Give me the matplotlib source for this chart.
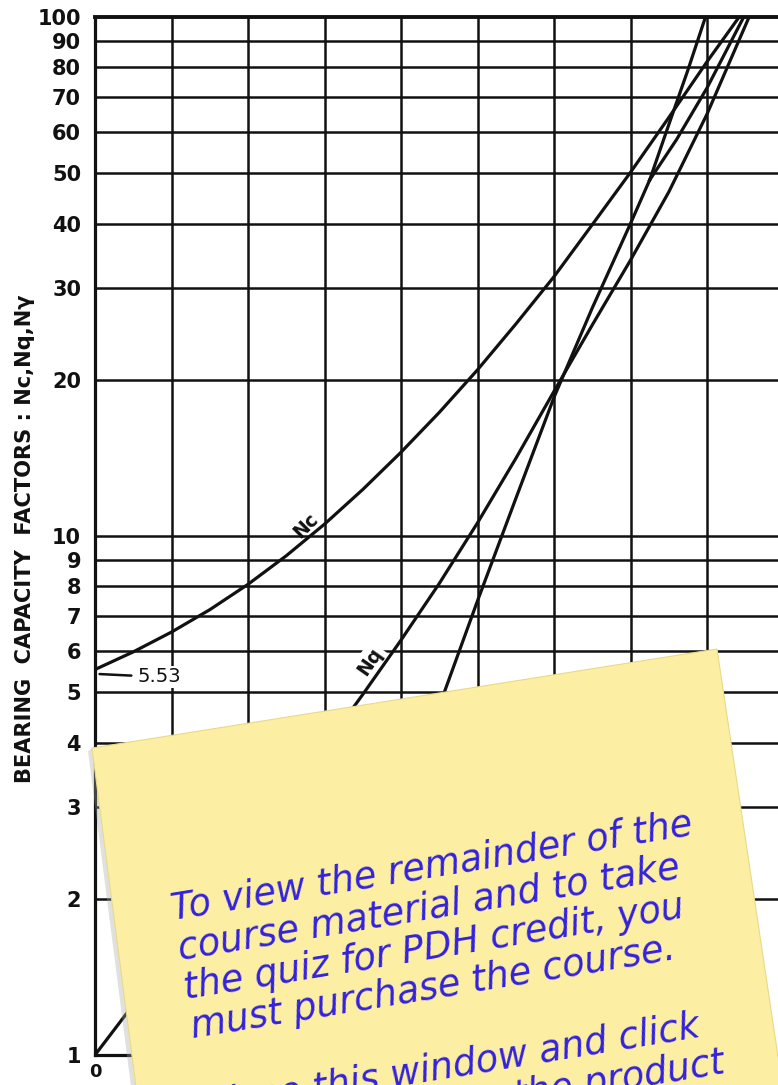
import numpy as np
import matplotlib
matplotlib.use("Agg")
import matplotlib.pyplot as plt
from matplotlib.patches import Polygon
from matplotlib.ticker import NullLocator, NullFormatter
from matplotlib import font_manager as fm

# ---------------- data ----------------
phi_nc = [0, 2.5, 5, 7.5, 10, 12.5, 15, 17.5, 20, 22.5, 25, 27.5, 30, 32.5, 35, 37.5, 40, 42.1]
Nc = [5.53, 5.98, 6.53, 7.21, 8.07, 9.16, 10.54, 12.29, 14.5, 17.3, 20.9, 25.6, 31.6, 39.8, 50.2, 64.0, 82.0, 100.0]

phi_nq = [0, 2.5, 5, 7.5, 10, 12.5, 15, 17.5, 20, 22.5, 25, 27.5, 30, 32.5, 35, 37.5, 40, 42.75]
Nq = [1.0, 1.25, 1.57, 1.97, 2.47, 3.1, 3.92, 4.95, 6.3, 8.1, 10.6, 14.1, 19.0, 25.5, 34.0, 46.0, 65.0, 100.0]

phi_ng = [2.5, 5, 7.5, 10, 12.5, 15, 17.5, 20, 22.5, 25, 27.5, 30, 32.5, 35, 36.25]
Ng = [0.15, 0.45, 0.8, 1.05, 1.35, 1.75, 2.3, 3.0, 4.7, 7.5, 11.8, 18.5, 27.5, 40.0, 48.5]
phi_ng_a = [36.25, 37.5, 38.75, 39.9]
Ng_a = [48.5, 62.0, 79.0, 100.0]
phi_ng_b = [36.25, 38.0, 40.0, 42.4]
Ng_b = [48.5, 58.0, 73.0, 100.0]

x_ticks = [0, 5, 10, 15, 20, 25, 30, 35, 40]
y_ticks = [1, 2, 3, 4, 5, 6, 7, 8, 9, 10, 20, 30, 40, 50, 60, 70, 80, 90, 100]
y_tick_labels = [str(v) for v in y_ticks]
x_grid = [5, 10, 15, 20, 25, 30, 35, 40]
y_grid = [2, 3, 4, 5, 6, 7, 8, 9, 10, 20, 30, 40, 50, 60, 70, 80, 90]

y_label = "BEARING  CAPACITY  FACTORS : Nc,Nq,N\u03b3"
note_lines = [
    "To view the remainder of the",
    "course material and to take",
    "the quiz for PDH credit, you",
    "must purchase the course.",
    "",
    "Close this window and click",
    "on 'Buy Now' on the product",
    "page.",
]

# ---------------- figure ----------------
W, H = 778, 1085
fig = plt.figure(figsize=(W / 100, H / 100), dpi=100)
fig.patch.set_facecolor("white")

def fx(px):
    return px / W

def fy(py):
    return 1 - py / H

names = {f.name for f in fm.fontManager.ttflist}
narrow = "Liberation Sans Narrow" if "Liberation Sans Narrow" in names else "DejaVu Sans"
ink = "#111111"

ax = fig.add_axes([fx(95), fy(1055), (778 - 95) / W, (1055 - 17) / H])
ax.set_yscale("log")
ax.set_xlim(0, 44.64)
ax.set_ylim(1, 100)

for x in x_grid:
    ax.axvline(x, color=ink, lw=1.8, zorder=1)
for y in y_grid:
    ax.axhline(y, color=ink, lw=1.8, zorder=1)

ax.set_yticks(y_ticks)
ax.set_yticklabels(y_tick_labels)
ax.yaxis.set_minor_locator(NullLocator())
ax.yaxis.set_minor_formatter(NullFormatter())
ax.set_xticks(x_ticks)
ax.set_xticklabels([str(v) for v in x_ticks])
ax.tick_params(axis="both", length=0, colors=ink)
ax.tick_params(axis="y", pad=10)
ax.tick_params(axis="x", pad=6)
for lab in ax.get_yticklabels():
    lab.set_fontfamily(narrow)
    lab.set_fontweight("bold")
    lab.set_fontsize(15)
for lab in ax.get_xticklabels():
    lab.set_fontfamily(narrow)
    lab.set_fontweight("bold")
    lab.set_fontsize(13)

ax.spines["right"].set_visible(False)
for s in ["left", "top", "bottom"]:
    ax.spines[s].set_linewidth(2.3)
    ax.spines[s].set_color(ink)
ax.spines["top"].set_linewidth(2.8)

lw = 2.3
ax.plot(phi_nc, Nc, color=ink, lw=lw, zorder=4)
ax.plot(phi_nq, Nq, color=ink, lw=lw, zorder=4)
ax.plot(phi_ng, Ng, color=ink, lw=lw, zorder=4)
ax.plot(phi_ng_a, Ng_a, color=ink, lw=lw, zorder=4)
ax.plot(phi_ng_b, Ng_b, color=ink, lw=lw, zorder=4)

# curve labels
ax.text(13.8, 10.45, "Nc", rotation=45, ha="center", va="center", fontsize=13.5,
        fontweight="bold", family=narrow, color=ink, zorder=3)
ax.text(17.95, 5.72, "Nq", rotation=55, ha="center", va="center", fontsize=13.5,
        fontweight="bold", family=narrow, color=ink, zorder=3,
        bbox=dict(boxstyle="square,pad=0.15", fc="white", ec="none"))
ax.annotate("5.53", xy=(phi_nc[0] + 0.3, 5.42), xytext=(4.2, 5.35),
            ha="center", va="center", fontsize=14, family=narrow, color=ink, zorder=3,
            bbox=dict(boxstyle="square,pad=0.1", fc="white", ec="none"),
            arrowprops=dict(arrowstyle="-", color=ink, lw=1.8, shrinkA=3, shrinkB=0))

# y label, fitted to the reference length
renderer = fig.canvas.get_renderer()

def text_width(s, **kw):
    t = fig.text(0, 0, s, **kw)
    w = t.get_window_extent(renderer).width
    t.remove()
    return w

ylab_kw = dict(family=narrow, fontweight="bold")
w0 = text_width(y_label, fontsize=10, **ylab_kw)
ylab_size = 10 * 492 / w0
fig.text(fx(25), fy(539), y_label, rotation=90, ha="center", va="center",
         fontsize=ylab_size, color=ink, **ylab_kw)

# ---------------- sticky note ----------------
note_px = [(92, 748), (717, 649), (786, 1110), (139, 1110)]
shadow_px = [(88, 751), (92, 748), (139, 1110), (134, 1110)]
fig.add_artist(Polygon([(fx(x), fy(y)) for x, y in shadow_px], closed=True,
                       transform=fig.transFigure, fc="#a8a8a0", ec="none", alpha=0.35, zorder=9))
fig.add_artist(Polygon([(fx(x), fy(y)) for x, y in note_px], closed=True,
                       transform=fig.transFigure, fc="#FCEFA4", ec="#e8d98a", lw=0.8, zorder=10))

ang = 9.3
note_kw = dict(family="DejaVu Sans", style="italic")
wn = text_width(note_lines[0], fontsize=10, **note_kw)
note_size = 10 * 527 / wn
x0, y0 = 173, 920
ls = 40
th = np.deg2rad(ang)
for i, line in enumerate(note_lines):
    if not line:
        continue
    px = x0 + i * ls * np.sin(th)
    py = y0 + i * ls * np.cos(th)
    fig.text(fx(px), fy(py), line, rotation=ang, rotation_mode="anchor",
             ha="left", va="baseline", fontsize=note_size, color="#3322DD",
             zorder=11, **note_kw)

fig.savefig("out.png", dpi=100)
